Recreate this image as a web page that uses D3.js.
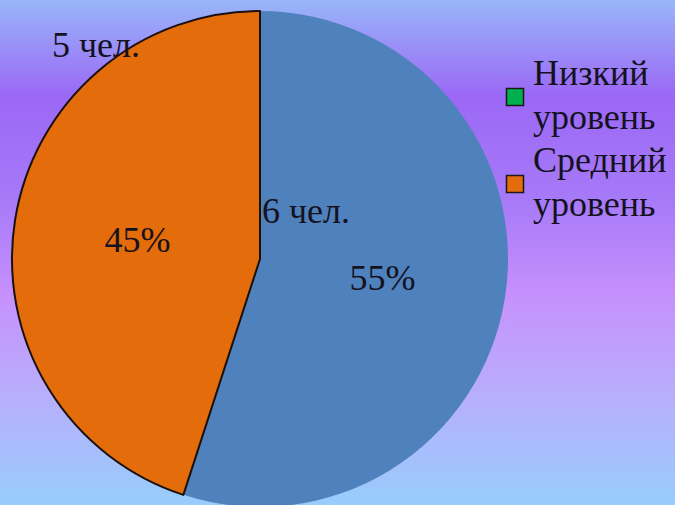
<!DOCTYPE html>
<html>
<head>
<meta charset="utf-8">
<script src="https://cdn.jsdelivr.net/npm/d3@7/dist/d3.min.js"></script>
<style>
  html, body { margin: 0; padding: 0; background: #fff; }
  svg { display: block; }
</style>
</head>
<body>
<svg id="chart" width="675" height="505"></svg>
<script>
// Share of pupils per level (percent) and head counts
const slicePercents = [55, 45];
const sliceCounts   = ["6 чел.", "5 чел."];
const sliceColors   = ["#4f81bd", "#e46c0a"];
const sliceStroke   = ["none", "#1a1010"];

// Legend entries
const legendLines  = [["Низкий", "уровень"], ["Средний", "уровень"]];
const legendColors = ["#00b050", "#e46c0a"];

const W = 675, H = 505;
const cx = 260, cy = 259, R = 248;
const FONT = '"Liberation Serif"';
const INK = "#15121f";

const svg = d3.select("#chart");

// Background gradient
const defs = svg.append("defs");
const grad = defs.append("linearGradient")
  .attr("id", "bg").attr("x1", 0).attr("y1", 0).attr("x2", 0).attr("y2", 1);
[
  [0.00, "#98b6f9"],
  [0.19, "#9b68f5"],
  [0.40, "#a77af8"],
  [0.58, "#c690fc"],
  [0.78, "#b8aefc"],
  [1.00, "#98cdfc"]
].forEach(([o, c]) => grad.append("stop").attr("offset", o).attr("stop-color", c));

svg.append("rect").attr("width", W).attr("height", H).attr("fill", "url(#bg)");

// Pie
const pie = d3.pie().sort(null).value(d => d)(slicePercents);
const arc = d3.arc().innerRadius(0).outerRadius(R);

const g = svg.append("g").attr("transform", `translate(${cx},${cy})`);

g.selectAll("path.slice")
  .data(pie)
  .join("path")
  .attr("class", "slice")
  .attr("d", arc)
  .attr("fill", (d, i) => sliceColors[i])
  .attr("stroke", (d, i) => sliceStroke[i])
  .attr("stroke-width", 2)
  .attr("stroke-linejoin", "round");

// Percentage labels at slice centroids
g.selectAll("text.pct")
  .data(pie)
  .join("text")
  .attr("class", "pct")
  .attr("x", d => arc.centroid(d)[0])
  .attr("y", d => arc.centroid(d)[1] + 12)
  .attr("text-anchor", "middle")
  .style("font-family", FONT)
  .style("font-size", "36px")
  .style("fill", INK)
  .text(d => d.data + "%");

// Head-count labels
const countPos = [[262, 223], [52, 57]];
svg.selectAll("text.cnt")
  .data(sliceCounts)
  .join("text")
  .attr("class", "cnt")
  .attr("x", (d, i) => countPos[i][0])
  .attr("y", (d, i) => countPos[i][1])
  .style("font-family", FONT)
  .style("font-size", "36px")
  .style("fill", INK)
  .text(d => d);

// Legend
const lg = svg.append("g").attr("transform", "translate(506,0)");
legendLines.forEach((lines, i) => {
  const top = 85 + i * 87;
  lg.append("rect")
    .attr("x", 0.5).attr("y", top + 3.5)
    .attr("width", 17).attr("height", 17)
    .attr("fill", legendColors[i])
    .attr("stroke", "#1a1a1a").attr("stroke-width", 1.5);
  lines.forEach((t, j) => {
    lg.append("text")
      .attr("x", 27)
      .attr("y", top + j * 43.5)
      .style("font-family", FONT)
      .style("font-size", "36px")
      .style("fill", INK)
      .text(t);
  });
});
</script>
</body>
</html>
